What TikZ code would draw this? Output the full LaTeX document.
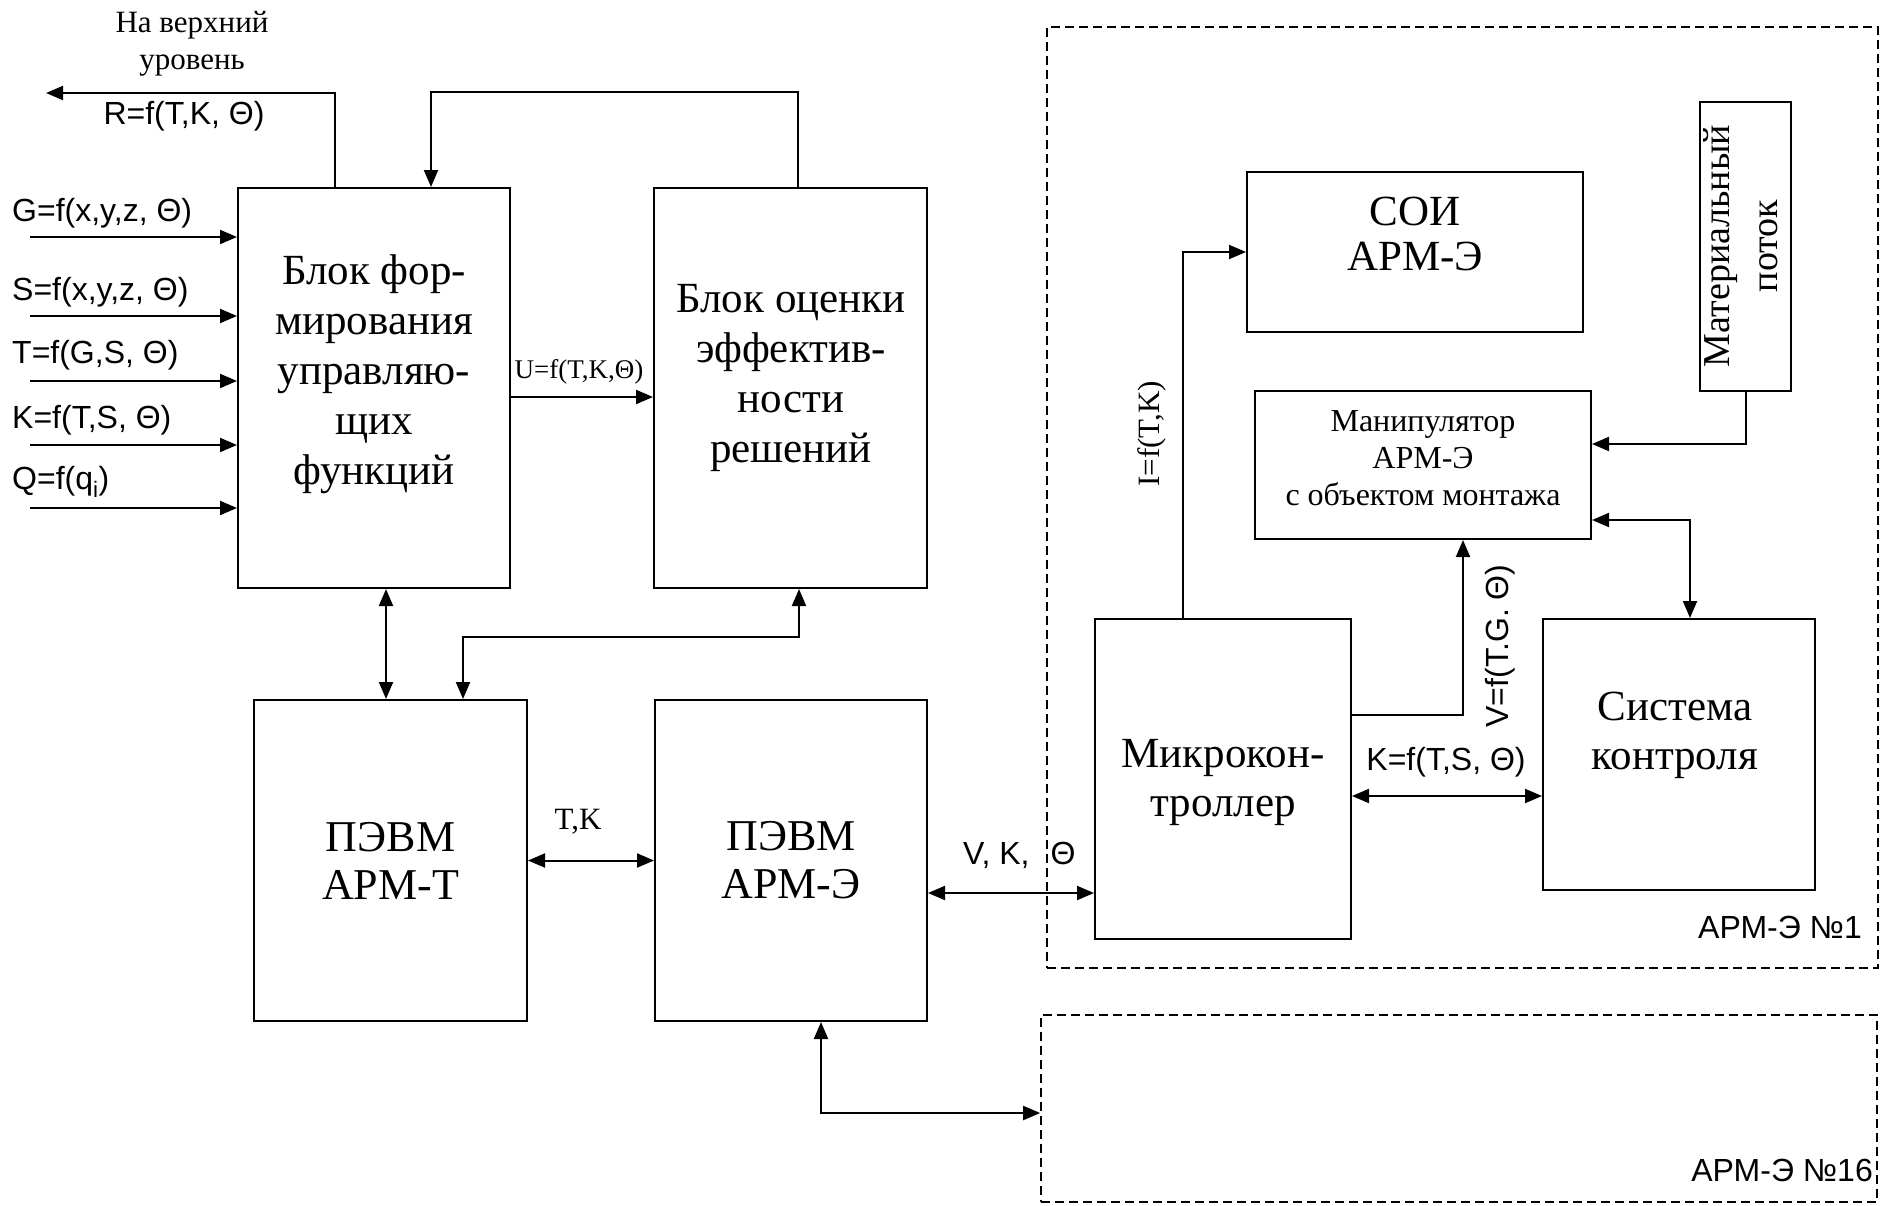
\documentclass[tikz,border=0pt]{standalone}
\usepackage{fontspec}
\setmainfont{Liberation Serif}
\setsansfont{Liberation Sans}
\usepackage{tikz}
\usetikzlibrary{arrows.meta,positioning}
\tikzset{
  blk/.style={rectangle,draw=black,line width=2pt,inner sep=0pt},
  btxt/.style={align=center,inner sep=0pt,font=\fontsize{43}{50}\selectfont},
  flbl/.style={inner sep=0pt,font=\sffamily\fontsize{32}{36}\selectfont},
  slbl/.style={inner sep=0pt,align=center,font=\fontsize{31}{37}\selectfont},
  arr/.style={-{Triangle[length=17pt,width=14pt]},line width=2pt},
  darr/.style={{Triangle[length=17pt,width=14pt]}-{Triangle[length=17pt,width=14pt]},line width=2pt},
  armbox/.style={rectangle,draw=black,line width=1.6pt,dash pattern=on 9pt off 5pt,inner sep=0pt}
}

\begin{document}
\begin{tikzpicture}[x=1pt,y=-1pt]
  \useasboundingbox (0,0) rectangle (1887,1205);

  % workstation frames
  \node[armbox,minimum width=831pt,minimum height=941pt] (arm1) at (1462.5,497.5) {};
  \node[armbox,minimum width=836pt,minimum height=187pt] (arm16) at (1459,1108.5) {};
  \node[flbl,anchor=east] (arm1l) at (1862,927) {АРМ-Э №1};
  \node[flbl,anchor=east] (arm16l) at (1873,1170) {АРМ-Э №16};

  % main blocks
  \node[blk,minimum width=272pt,minimum height=400pt] (fbox) at (374,388) {};
  \node[btxt] (fboxt) at (374,374) {Блок фор-\\мирования\\управляю-\\щих\\функций};
  \node[blk,minimum width=273pt,minimum height=400pt] (ebox) at (790.5,388) {};
  \node[btxt] (eboxt) at (791,378) {Блок оценки\\эффектив-\\ности\\решений};
  \node[blk,btxt,minimum width=273pt,minimum height=321pt,font=\fontsize{44}{48}\selectfont] (pt) at (390.5,860.5) {ПЭВМ\\АРМ-Т};
  \node[blk,btxt,minimum width=272pt,minimum height=321pt,font=\fontsize{44}{48}\selectfont] (pe) at (791,860.5) {ПЭВМ\\АРМ-Э};

  % workstation contents
  \node[blk,minimum width=336pt,minimum height=160pt] (soi) at (1415,252) {};
  \node[btxt,font=\fontsize{43}{45}\selectfont] (soit) at (1415,234) {СОИ\\АРМ-Э};
  \node[blk,minimum width=91pt,minimum height=289pt] (mat) at (1745.5,246.5) {};
  \node[btxt,rotate=90,font=\fontsize{38}{48}\selectfont] (matt) at (1741,246) {Материальный\\поток};
  \node[blk,minimum width=336pt,minimum height=148pt] (man) at (1423,465) {};
  \node[btxt,font=\fontsize{32}{37}\selectfont] (mant) at (1423,458) {Манипулятор\\АРМ-Э\\с объектом монтажа};
  \node[blk,minimum width=256pt,minimum height=320pt] (mc) at (1223,779) {};
  \node[btxt,font=\fontsize{43}{49}\selectfont] (mct) at (1223,782) {Микрокон-\\троллер};
  \node[blk,minimum width=272pt,minimum height=271pt] (sys) at (1679,754.5) {};
  \node[btxt,font=\fontsize{43}{49}\selectfont] (syst) at (1675,735) {Система\\контроля};

  % inputs
  \foreach \n/\yy/\ly/\txt in {g/237/213/{G=f(x,y,z, Θ)},s/316/292/{S=f(x,y,z, Θ)},
      t/381/355/{T=f(G,S, Θ)},k/445/420/{K=f(T,S, Θ)},q/508/482/{Q=f(q\textsubscript{i})}} {
    \coordinate (in\n) at (30,\yy);
    \draw[arr] (in\n) -- (in\n -| fbox.west);
    \node[flbl,anchor=west] (l\n) at (12,\ly) {\txt};
  }

  % upper level
  \coordinate (upl) at (46,93);
  \draw[arr] ([xshift=-39pt]fbox.north) |- (upl);
  \node[flbl] (rl) at (184,116) {R=f(T,K, Θ)};
  \node[slbl] (upt) at (192,44) {На верхний\\уровень};
  \draw[arr] ([xshift=7.5pt]ebox.north) -- ++(0,-95) -| ([xshift=57pt]fbox.north);

  \draw[arr] ([yshift=-9pt]fbox.east) -- ([yshift=-9pt]ebox.west);
  \node[font=\fontsize{27}{30}\selectfont,inner sep=0pt] (ul) at (579,372) {U=f(T,K,Θ)};

  % links between computers
  \draw[darr] ([xshift=12pt]fbox.south) -- ([xshift=-4.5pt]pt.north);
  \draw[darr] ([xshift=8.5pt]ebox.south) -- ++(0,48) -| ([xshift=72.5pt]pt.north);
  \draw[darr] (pt.east) -- (pe.west);
  \node[slbl] (tkl) at (578,822) {T,K};
  \draw[darr] ([yshift=-32.5pt]pe.east) -- ([yshift=-114pt]mc.west);
  \node[flbl,anchor=west] (vkl) at (963,855) {V, K,\hspace{21pt}Θ};
  \draw[darr] ([xshift=30pt]pe.south) |- ([yshift=-4.5pt]arm16.west);

  % inside workstation
  \draw[arr] ([xshift=-40pt]mc.north) |- (soi.west);
  \node[slbl,rotate=90] (il) at (1152,434) {I=f(T,K)};
  \draw[arr] ([yshift=64pt]mc.east) -| ([xshift=40pt]man.south);
  \node[flbl,rotate=90] (vl) at (1500,646) {V=f(T.G. Θ)};
  \draw[arr] (mat.south) |- ([yshift=21pt]man.east);
  \draw[darr] ([yshift=-55pt]man.east) -| ([xshift=11pt]sys.north);
  \draw[darr] ([yshift=-17pt]mc.east) -- ([yshift=-41.5pt]sys.west);
  \node[flbl] (kl) at (1446,762) {K=f(T,S, Θ)};
\end{tikzpicture}
\end{document}
